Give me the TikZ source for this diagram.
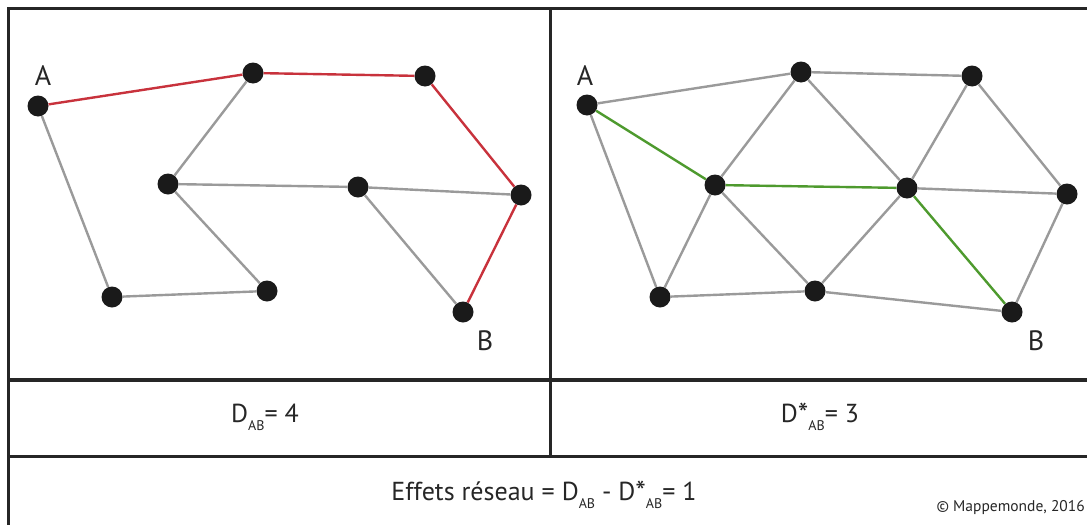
\documentclass[tikz,border=0pt]{standalone}
\usepackage{fontspec}
\setmainfont{PT Sans}
\definecolor{edgegray}{HTML}{9A9A9A}
\definecolor{edgered}{HTML}{C8323C}
\definecolor{edgegreen}{HTML}{4E9A2E}
\definecolor{dotcol}{HTML}{1A1A1A}
\newcommand{\mysub}[1]{\raisebox{-8pt}{\fontsize{14}{14}\selectfont #1}}
\newcommand{\myast}{\raisebox{-2pt}{\fontsize{30}{30}\selectfont *}}
\begin{document}
\begin{tikzpicture}[x=1pt,y=-1pt,
  dot/.style={circle,fill=dotcol,inner sep=0pt,minimum size=21pt},
  gline/.style={draw=edgegray,line width=2.4pt},
  rline/.style={draw=edgered,line width=2.4pt},
  grline/.style={draw=edgegreen,line width=2.4pt},
  frame/.style={draw=black!85,line width=3pt},
  ptlabel/.style={font=\fontsize{28}{28}\selectfont,text=black!85,inner sep=0pt,anchor=base},
  eq/.style={font=\fontsize{26}{26}\selectfont,text=black!85,inner sep=0pt,anchor=base}]
\useasboundingbox (0,0) rectangle (1087,525);
% frame
\draw[frame] (1087,8) -- (8,8) -- (8,525);
\draw[frame] (550,8) -- (550,456);
\draw[frame,line width=3.6pt] (8,380) -- (1087,380);
\draw[frame] (8,456) -- (1087,456);
% left network
\node[dot] (a) at (38,106) {};
\node[dot] (l2) at (253,73) {};
\node[dot] (l3) at (425,76) {};
\node[dot] (l4) at (521,195) {};
\node[dot] (b) at (463,312) {};
\node[dot] (l6) at (168,184) {};
\node[dot] (l7) at (358,187) {};
\node[dot] (l8) at (112,297) {};
\node[dot] (l9) at (267,291) {};
\node[ptlabel] (la) at (43,85) {A};
\node[ptlabel] (lb) at (485,350) {B};
\draw[gline] (a) -- (l8);
\draw[gline] (l8) -- (l9);
\draw[gline] (l9) -- (l6);
\draw[gline] (l6) -- (l2);
\draw[gline] (l6) -- (l7);
\draw[gline] (l7) -- (l4);
\draw[gline] (l7) -- (b);
\draw[rline] (a) -- (l2);
\draw[rline] (l2) -- (l3);
\draw[rline] (l3) -- (l4);
\draw[rline] (l4) -- (b);
% right network
\node[dot] (ra) at (587,105) {};
\node[dot] (r2) at (801,72) {};
\node[dot] (r3) at (972,76) {};
\node[dot] (r4) at (1067,194) {};
\node[dot] (rb) at (1012,312) {};
\node[dot] (r6) at (715,185) {};
\node[dot] (r7) at (907,188) {};
\node[dot] (r8) at (660,297) {};
\node[dot] (r9) at (815,291) {};
\node[ptlabel] (rla) at (585,85) {A};
\node[ptlabel] (rlb) at (1036,350) {B};
\draw[gline] (ra) -- (r2);
\draw[gline] (r2) -- (r3);
\draw[gline] (r3) -- (r4);
\draw[gline] (r4) -- (rb);
\draw[gline] (ra) -- (r8);
\draw[gline] (r8) -- (r9);
\draw[gline] (r9) -- (rb);
\draw[gline] (r7) -- (r4);
\draw[gline] (r6) -- (r2);
\draw[gline] (r2) -- (r7);
\draw[gline] (r7) -- (r3);
\draw[gline] (r6) -- (r8);
\draw[gline] (r6) -- (r9);
\draw[gline] (r9) -- (r7);
\draw[grline] (ra) -- (r6);
\draw[grline] (r6) -- (r7);
\draw[grline] (r7) -- (rb);
% equations
\node[eq] (dab) at (265,422) {D\mysub{AB}= 4};
\node[eq] (dsab) at (820,422) {D\myast\mysub{AB}= 3};
\node[eq] (eff) at (544,500) {Effets réseau = D\mysub{AB} - D\myast\mysub{AB}= 1};
\node[font=\fontsize{15.5}{16}\selectfont,text=black!85,inner sep=0pt,anchor=base east] (copy) at (1085,511) {© Mappemonde, 2016};
\end{tikzpicture}
\end{document}
